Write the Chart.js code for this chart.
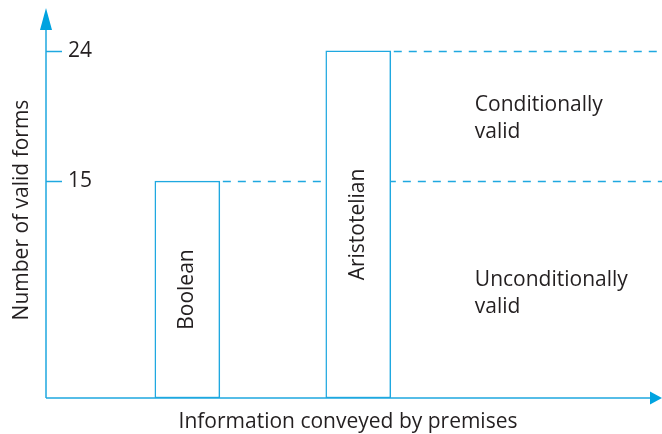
<!DOCTYPE html>
<html>
<head>
<meta charset="utf-8">
<script src="https://cdn.jsdelivr.net/npm/chart.js@4"></script>
<style>
  html, body { margin: 0; padding: 0; background: #fff; }
  #wrap { width: 662px; height: 434px; position: relative; }
</style>
</head>
<body>
<div id="wrap"><canvas id="chart"></canvas></div>
<script>
// data
const systems = ['Boolean', 'Aristotelian'];
const information = [2.34, 5.17];      // position along "information conveyed" (arbitrary units 0-10)
const validForms = [15, 24];
const yTickValues = [15, 24];
const regionText = [['Conditionally', 'valid'], ['Unconditionally', 'valid']];
const regionLevel = [19.3, 7.2];        // value on the y scale where each note sits
const regionX = 7.1;

const BLUE = '#1fa8e0';
const ARROW = '#00a3e0';
const INK = '#231f20';
const FONT = 'Open Sans';
const SIZE = 21;

Chart.defaults.font.family = FONT;
Chart.defaults.color = INK;

/*
*   Draws the figure's extras: dashed level lines, axes with arrows,
*   inward tick marks, text inside bars and the region notes
*/
const decorations = {
  id: 'decorations',
  beforeDatasetsDraw(chart) {
    const ctx = chart.ctx;
    const yScale = chart.scales.y;
    const bars = chart.getDatasetMeta(0).data;
    ctx.save();
    ctx.strokeStyle = BLUE;
    ctx.lineWidth = 1.5;
    ctx.setLineDash([8, 7]);
    bars.forEach((bar, i) => {
      const y = Math.round(yScale.getPixelForValue(validForms[i])) + 0.5;
      ctx.beginPath();
      ctx.moveTo(bar.x + bar.width / 2 + 3, y);
      ctx.lineTo(chart.width, y);
      ctx.stroke();
    });
    ctx.restore();
  },
  afterDatasetsDraw(chart) {
    const ctx = chart.ctx;
    const { left, bottom, top, right } = chart.chartArea;
    const xScale = chart.scales.x;
    const yScale = chart.scales.y;
    const bars = chart.getDatasetMeta(0).data;

    ctx.save();
    // axes
    ctx.strokeStyle = BLUE;
    ctx.lineWidth = 1.5;
    ctx.beginPath();
    ctx.moveTo(left, bottom);
    ctx.lineTo(left, top + 6);
    ctx.moveTo(left, bottom);
    ctx.lineTo(right, bottom);
    ctx.stroke();

    // tick marks pointing into the plot
    yScale.ticks.forEach(t => {
      const y = Math.round(yScale.getPixelForValue(t.value)) + 0.5;
      ctx.beginPath();
      ctx.moveTo(left, y);
      ctx.lineTo(left + 16, y);
      ctx.stroke();
    });

    // arrow heads
    ctx.fillStyle = ARROW;
    ctx.beginPath();
    ctx.moveTo(left, top - 14);
    ctx.lineTo(left - 6, top + 8);
    ctx.lineTo(left + 6, top + 8);
    ctx.closePath();
    ctx.fill();
    ctx.beginPath();
    ctx.moveTo(chart.width, bottom);
    ctx.lineTo(right, bottom - 6.5);
    ctx.lineTo(right, bottom + 6.5);
    ctx.closePath();
    ctx.fill();

    // system names inside the bars
    ctx.fillStyle = INK;
    ctx.font = SIZE + 'px ' + FONT;
    ctx.textAlign = 'center';
    ctx.textBaseline = 'middle';
    bars.forEach((bar, i) => {
      ctx.save();
      ctx.translate(bar.x, (bar.y + bar.base) / 2);
      ctx.rotate(-Math.PI / 2);
      ctx.fillText(systems[i], 0, 0);
      ctx.restore();
    });

    // region notes
    ctx.textAlign = 'left';
    const x = xScale.getPixelForValue(regionX);
    regionText.forEach((lines, i) => {
      const yc = yScale.getPixelForValue(regionLevel[i]);
      lines.forEach((line, j) => {
        ctx.fillText(line, x, yc + (j - (lines.length - 1) / 2) * 27);
      });
    });
    ctx.restore();
  }
};

new Chart(document.getElementById('chart'), {
  type: 'bar',
  data: {
    datasets: [{
      data: information.map((x, i) => ({ x: x, y: validForms[i] })),
      backgroundColor: '#ffffff',
      borderColor: BLUE,
      borderWidth: 1.5,
      borderSkipped: false,
      barThickness: 65
    }]
  },
  options: {
    responsive: true,
    maintainAspectRatio: false,
    animation: false,
    layout: { padding: { top: 22, right: 12, left: 0, bottom: 0 } },
    plugins: {
      legend: { display: false },
      tooltip: { enabled: false }
    },
    scales: {
      x: {
        type: 'linear',
        min: 0,
        max: 10,
        offset: false,
        grid: { display: false },
        border: { display: false },
        ticks: { display: false },
        title: {
          display: true,
          text: 'Information conveyed by premises',
          font: { size: SIZE, lineHeight: 1.1 },
          padding: { top: 0, bottom: 0 }
        },
        afterFit: (scale) => {
          scale.height = 36;
          scale.paddingLeft = 0;
          scale.paddingRight = 0;
        }
      },
      y: {
        min: 0,
        max: 26,
        grid: { display: false },
        border: { display: false },
        afterBuildTicks: (scale) => {
          scale.ticks = yTickValues.map(v => ({ value: v }));
        },
        ticks: {
          mirror: true,
          padding: 22,
          font: { size: SIZE },
          color: INK
        },
        title: {
          display: true,
          text: 'Number of valid forms',
          font: { size: SIZE, lineHeight: 1.1 },
          padding: { top: 10, bottom: 0 }
        },
        afterFit: (scale) => {
          scale.width = 46;
          scale.paddingTop = 0;
          scale.paddingBottom = 0;
        }
      }
    }
  },
  plugins: [decorations]
});
</script>
</body>
</html>
